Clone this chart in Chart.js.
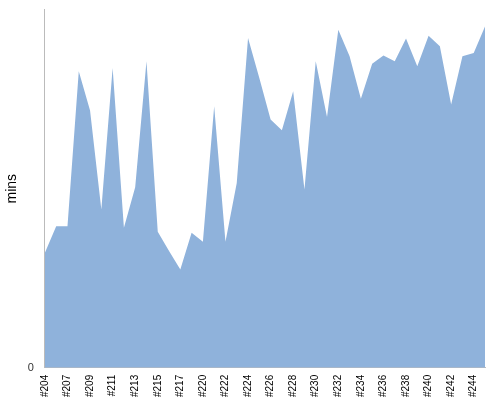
<!DOCTYPE html>
<html>
<head>
<script src="https://cdn.jsdelivr.net/npm/chart.js@4"></script>
<style>
  body { margin: 0; background: #fff; }
  #wrap { width: 500px; height: 400px; }
</style>
</head>
<body>
<div id="wrap"><canvas id="chart"></canvas></div>
<script>
const labels = [
  '#204', '#206', '#207', '#208', '#209', '#210', '#211', '#212', '#213', '#214',
  '#215', '#216', '#217', '#218', '#220', '#221', '#222', '#223', '#224', '#225',
  '#226', '#227', '#228', '#229', '#230', '#231', '#232', '#233', '#234', '#235',
  '#236', '#237', '#238', '#239', '#240', '#241', '#242', '#243', '#244', '#245'
];
const mins = [
  32.1, 39.5, 39.5, 82.8, 71.8, 44.2, 83.7, 39.1, 50.4, 85.6,
  38.0, 32.6, 27.4, 37.7, 35.2, 73.0, 35.2, 51.6, 92.1, 80.9,
  69.3, 66.3, 77.2, 49.8, 85.6, 70.0, 94.4, 87.0, 75.1, 84.9,
  87.2, 85.6, 91.9, 84.2, 92.7, 89.8, 73.5, 87.0, 87.9, 95.3
];

new Chart(document.getElementById('chart'), {
  type: 'line',
  data: {
    labels: labels,
    datasets: [{
      data: mins,
      fill: 'origin',
      backgroundColor: '#8fb2db',
      borderWidth: 0,
      pointRadius: 0,
      tension: 0
    }]
  },
  options: {
    responsive: true,
    maintainAspectRatio: false,
    animation: false,
    layout: { padding: { top: 5, right: 10 } },
    plugins: { legend: { display: false }, tooltip: { enabled: false } },
    scales: {
      x: {
        offset: false,
        grid: { display: false, drawTicks: true, tickLength: 4, color: '#999' },
        border: { color: '#bbb' },
        ticks: {
          autoSkip: false,
          maxRotation: 90,
          minRotation: 90,
          font: { family: 'Arial, Liberation Sans', size: 10 },
          color: '#000',
          callback: (v, i) => (i % 2 === 0 ? labels[i] : '')
        }
      },
      y: {
        min: 0,
        max: 100,
        afterBuildTicks: axis => { axis.ticks = [{ value: 0 }]; },
        grid: { display: false },
        border: { color: '#bbb' },
        ticks: { font: { family: 'Arial, Liberation Sans', size: 11 }, color: '#333' },
        title: { display: true, text: 'mins', font: { family: 'Arial, Liberation Sans', size: 14 }, color: '#000' }
      }
    }
  }
});
</script>
</body>
</html>
